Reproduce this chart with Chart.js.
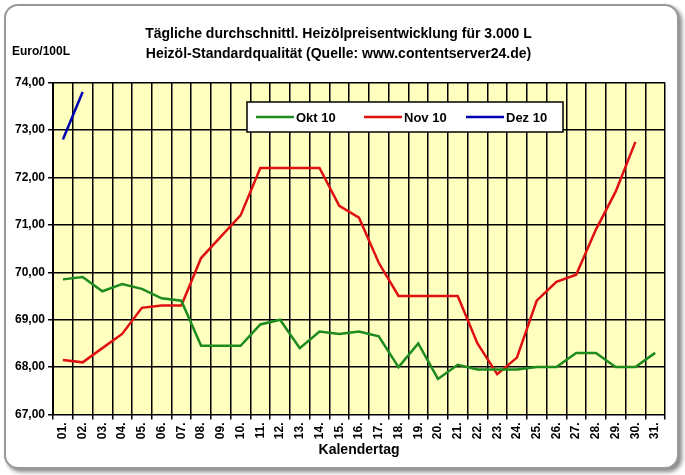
<!DOCTYPE html><html><head><script src="https://cdn.jsdelivr.net/npm/chart.js"></script>
<style>body{margin:0;background:#fff}#w{position:absolute;left:4px;top:4px;width:671px;height:461px;border:2px solid #999;border-radius:14px;background:#fff;box-shadow:3px 3px 4px #888}</style></head><body>
<div id="w"><canvas id="c" width="671" height="461"></canvas></div>
<script>
const days=[];for(let i=1;i<=31;i++)days.push(String(i).padStart(2,'0')+'.');
const okt=[69.85,69.9,69.6,69.75,69.65,69.45,69.4,68.45,68.45,68.45,68.9,69.0,68.4,68.75,68.7,68.75,68.65,68.0,68.5,67.75,68.05,67.95,67.95,67.95,68.0,68.0,68.3,68.3,68.0,68.0,68.3];
const nov=[68.15,68.1,68.4,68.7,69.25,69.3,69.3,70.3,70.75,71.2,72.2,72.2,72.2,72.2,71.4,71.15,70.2,69.5,69.5,69.5,69.5,68.5,67.85,68.2,69.4,69.8,69.95,70.9,71.7,72.75,null];
const dez=[72.8,73.8];
const bg={id:'bg',beforeDraw(c){const a=c.chartArea,x=c.ctx;x.save();x.fillStyle='#FFFFC0';x.fillRect(a.left,a.top,a.width,a.height);x.restore();}};
new Chart(document.getElementById('c'),{type:'line',data:{labels:days,datasets:[
{label:'Okt 10',data:okt,borderColor:'#1E8B1E',borderWidth:2.5,pointRadius:0,tension:0},
{label:'Nov 10',data:nov,borderColor:'#E01010',borderWidth:2.5,pointRadius:0,tension:0},
{label:'Dez 10',data:dez,borderColor:'#0000B0',borderWidth:2.5,pointRadius:0,tension:0}]},
options:{responsive:false,animation:false,layout:{padding:{left:6,right:12,top:8,bottom:8}},
plugins:{title:{display:true,text:['Tägliche durchschnittl. Heizölpreisentwicklung für 3.000 L','Heizöl-Standardqualität (Quelle: www.contentserver24.de)'],font:{family:'Liberation Sans',size:14,weight:'bold',lineHeight:1.45},color:'#000',padding:{top:10,bottom:18}},
legend:{display:false}},
scales:{x:{offset:true,grid:{offset:true,color:'#000',lineWidth:1.5,drawTicks:true,tickLength:5},border:{color:'#000'},ticks:{maxRotation:90,minRotation:90,autoSkip:false,font:{family:'Liberation Sans',size:12,weight:'bold'},color:'#000'},title:{display:true,text:'Kalendertag',font:{family:'Liberation Sans',size:14,weight:'bold'},color:'#000',padding:0}},
y:{min:67,max:74,grid:{color:'#000',lineWidth:1.5,tickLength:5},border:{color:'#000'},ticks:{stepSize:1,callback:v=>v.toFixed(2).replace('.',','),font:{family:'Liberation Sans',size:12,weight:'bold'},color:'#000'}}}},
plugins:[bg,{id:'lg',afterDraw(c){const x=c.ctx;x.save();const L=241,T=96,W=316,H=30;x.fillStyle='#fff';x.fillRect(L,T,W,H);x.strokeStyle='#000';x.lineWidth=1.5;x.strokeRect(L,T,W,H);
const items=[['Okt 10','#1E8B1E',250],['Nov 10','#E01010',358],['Dez 10','#0000B0',460]];x.font='bold 13px Liberation Sans';x.textBaseline='middle';
items.forEach(([t,col,px])=>{x.strokeStyle=col;x.lineWidth=2.5;x.beginPath();x.moveTo(px,T+15);x.lineTo(px+38,T+15);x.stroke();x.fillStyle='#000';x.fillText(t,px+40,T+16);});
x.font='bold 12px Liberation Sans';x.fillText('Euro/100L',6,46);x.restore();}}]});
</script></body></html>
